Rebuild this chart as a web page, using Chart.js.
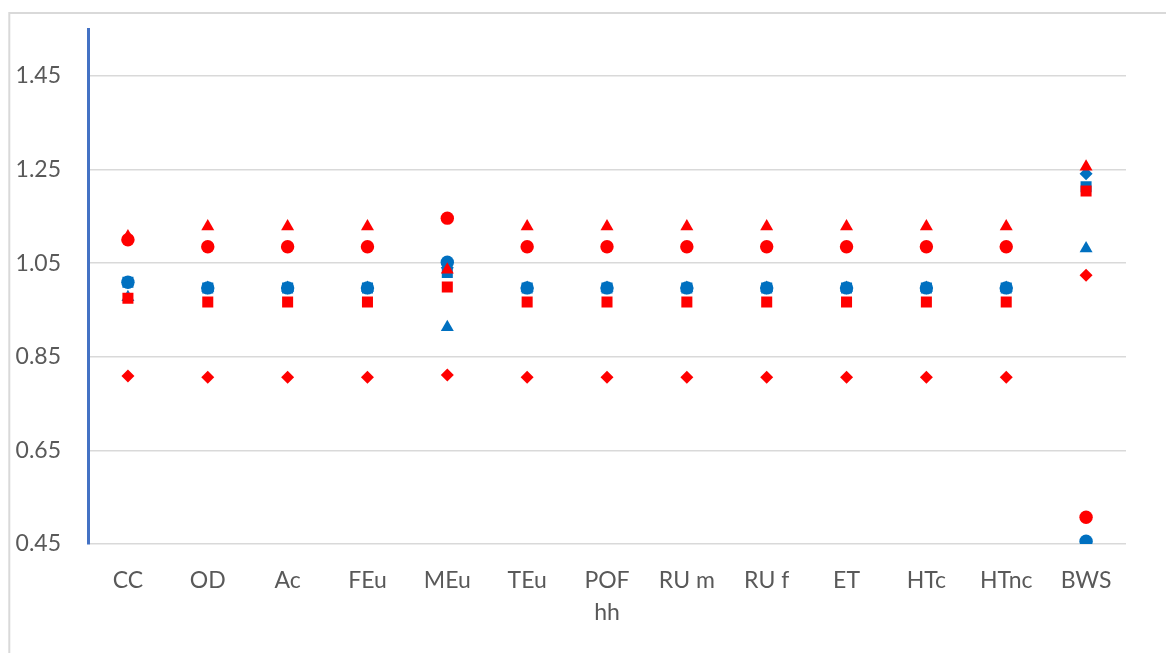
<!DOCTYPE html>
<html>
<head>
<meta charset="utf-8">
<script src="https://cdn.jsdelivr.net/npm/chart.js@4"></script>
<style>
html,body{margin:0;padding:0;background:#fff;}
canvas{display:block;}
</style>
</head>
<body>
<canvas id="c" width="1166" height="653"></canvas>
<script>
const categories = ['CC','OD','Ac','FEu','MEu','TEu',['POF','hh'],'RU m','RU f','ET','HTc','HTnc','BWS'];
const yTicks = [0.45, 0.65, 0.85, 1.05, 1.25, 1.45];

const redDiamond   = [0.809,0.806,0.806,0.806,0.811,0.806,0.806,0.806,0.806,0.806,0.806,0.806,1.024];
const redSquare    = [0.975,0.967,0.967,0.967,0.999,0.967,0.967,0.967,0.967,0.967,0.967,0.967,1.204];
const redCircle    = [1.100,1.085,1.085,1.085,1.146,1.085,1.085,1.085,1.085,1.085,1.085,1.085,0.507];
const redTriangle  = [1.107,1.128,1.128,1.128,1.036,1.128,1.128,1.128,1.128,1.128,1.128,1.128,1.256];
const blueDiamond  = [1.009,0.997,0.997,0.997,1.040,0.997,0.997,0.997,0.997,0.997,0.997,0.997,1.241];
const blueSquare   = [1.009,0.997,0.997,0.997,1.030,0.997,0.997,0.997,0.997,0.997,0.997,0.997,1.213];
const blueCircle   = [1.009,0.997,0.997,0.997,1.052,0.997,0.997,0.997,0.997,0.997,0.997,0.997,0.456];
const blueTriangle = [0.977,0.997,0.997,0.997,0.913,0.997,0.997,0.997,0.997,0.997,0.997,0.997,1.081];

const RED = '#FF0000', BLUE = '#0070C0';
function ds(data, color, style, r){
  return {data, showLine:false, pointStyle:style, pointRadius:r, pointBackgroundColor:color,
          pointBorderColor:color, pointBorderWidth:0, borderColor:color, backgroundColor:color};
}

const frame = {
  id:'frame',
  beforeDraw(chart){
    const c = chart.ctx;
    c.save();
    c.strokeStyle = '#d9d9d9';
    c.lineWidth = 2;
    c.beginPath();
    c.moveTo(9.3, 653); c.lineTo(9.3, 13); c.lineTo(1166, 13);
    c.stroke();
    c.restore();
  }
};

new Chart(document.getElementById('c'), {
  type:'line',
  data:{
    labels:categories,
    datasets:[
      ds(redTriangle, RED, 'triangle', 7.5),
      ds(redCircle, RED, 'circle', 6.7),
      ds(redSquare, RED, 'rect', 7.8),
      ds(redDiamond, RED, 'rectRot', 6.5),
      ds(blueCircle, BLUE, 'circle', 6.7),
      ds(blueTriangle, BLUE, 'triangle', 7.5),
      ds(blueSquare, BLUE, 'rect', 7.8),
      ds(blueDiamond, BLUE, 'rectRot', 6.5)
    ]
  },
  options:{
    responsive:false,
    animation:false,
    events:[],
    layout:{padding:{left:0,top:29,right:40,bottom:0}},
    plugins:{legend:{display:false},tooltip:{enabled:false}},
    scales:{
      x:{
        offset:true,
        grid:{display:false, drawTicks:false},
        border:{display:false},
        ticks:{color:'#595959', font:{family:'Lato', size:23, lineHeight:1.4}, padding:20, maxRotation:0, autoSkip:false},
        afterFit(s){ s.height = 653 - 544; s.paddingLeft = 0; s.paddingRight = 0; }
      },
      y:{
        min:0.45, max:1.55,
        grid:{color:'#d9d9d9', lineWidth:1.5, drawTicks:false},
        border:{display:true, color:'#4472C4', width:3},
        ticks:{color:'#595959', font:{family:'Lato', size:23}, padding:27,
               callback:(v)=>Number(v).toFixed(2)},
        afterBuildTicks(s){ s.ticks = yTicks.map(v=>({value:v})); },
        afterFit(s){ s.width = 88; s.paddingTop = 0; s.paddingBottom = 0; }
      }
    }
  },
  plugins:[frame]
});
</script>
</body>
</html>
